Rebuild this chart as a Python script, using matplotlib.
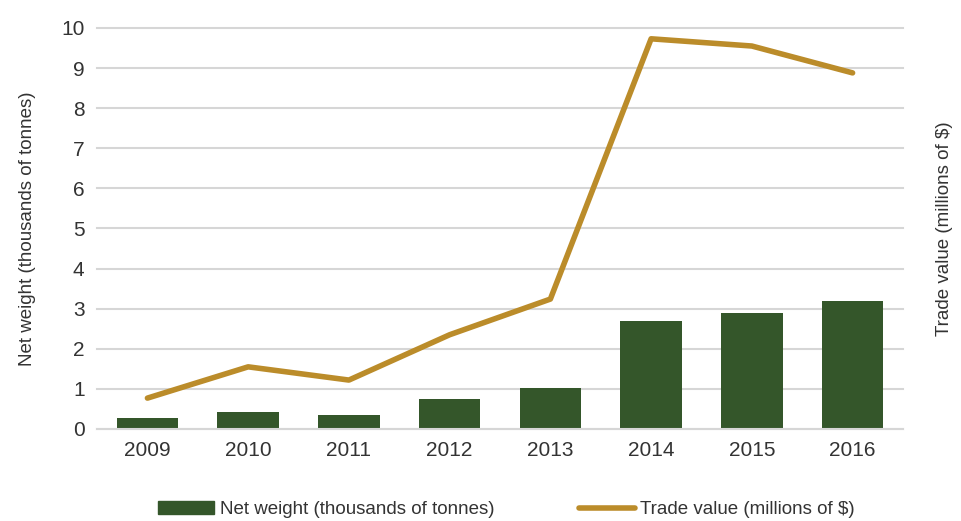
import numpy as np
import matplotlib.pyplot as plt
from matplotlib.patches import Patch
from matplotlib.lines import Line2D

plt.rcParams['font.family'] = ['Liberation Sans', 'DejaVu Sans']

# === Data ===
years = ["2009", "2010", "2011", "2012", "2013", "2014", "2015", "2016"]
net_weight = [0.27, 0.42, 0.35, 0.75, 1.02, 2.70, 2.89, 3.19]
trade_value = [0.77, 1.55, 1.22, 2.35, 3.24, 9.73, 9.55, 8.88]

green = "#34562a"
gold = "#bb8c2a"
grid_col = "#d6d6d6"
text_col = "#333333"

fig = plt.figure(figsize=(9.61, 5.21), dpi=100)
ax = fig.add_axes([0.101, 0.1766, 0.8386, 0.7697])
x = np.arange(len(years))

ax.bar(x, net_weight, width=0.61, color=green, zorder=2)
ax.set_ylim(0, 10)
ax.set_xlim(-0.5, len(years) - 0.5)
ax.set_yticks(range(0, 11))
ax.set_xticks(x)
ax.set_xticklabels(years)
ax.yaxis.grid(True, color=grid_col, linewidth=1.5, zorder=0)
for gl in ax.get_ygridlines():
    gl.set_clip_on(False)
ax.set_axisbelow(True)
for s in ["top", "right", "left"]:
    ax.spines[s].set_visible(False)
ax.spines["bottom"].set_color(grid_col)
ax.spines["bottom"].set_linewidth(1.5)
ax.tick_params(axis="both", length=0, labelsize=15, colors=text_col, pad=9)
ax.set_ylabel("Net weight (thousands of tonnes)", fontsize=13.5, color=text_col, labelpad=18)

ax2 = ax.twinx()
ax2.plot(x, trade_value, color=gold, linewidth=4, solid_capstyle="round", zorder=3)
ax2.set_ylim(0, 10)
ax2.set_yticks([])
for s in ax2.spines.values():
    s.set_visible(False)
ax2.set_ylabel("Trade value (millions of $)", fontsize=13.5, color=text_col, labelpad=24)

handles = [Patch(color=green), Line2D([0], [0], color=gold, linewidth=4, solid_capstyle="round")]
fig.legend(handles, ["Net weight (thousands of tonnes)", "Trade value (millions of $)"],
           loc="center", bbox_to_anchor=(0.527, 0.022), ncol=2, frameon=False,
           fontsize=13.5, labelcolor=text_col, columnspacing=4.5, handlelength=3.0, handletextpad=0.3)

fig.savefig("out.png", dpi=100)
